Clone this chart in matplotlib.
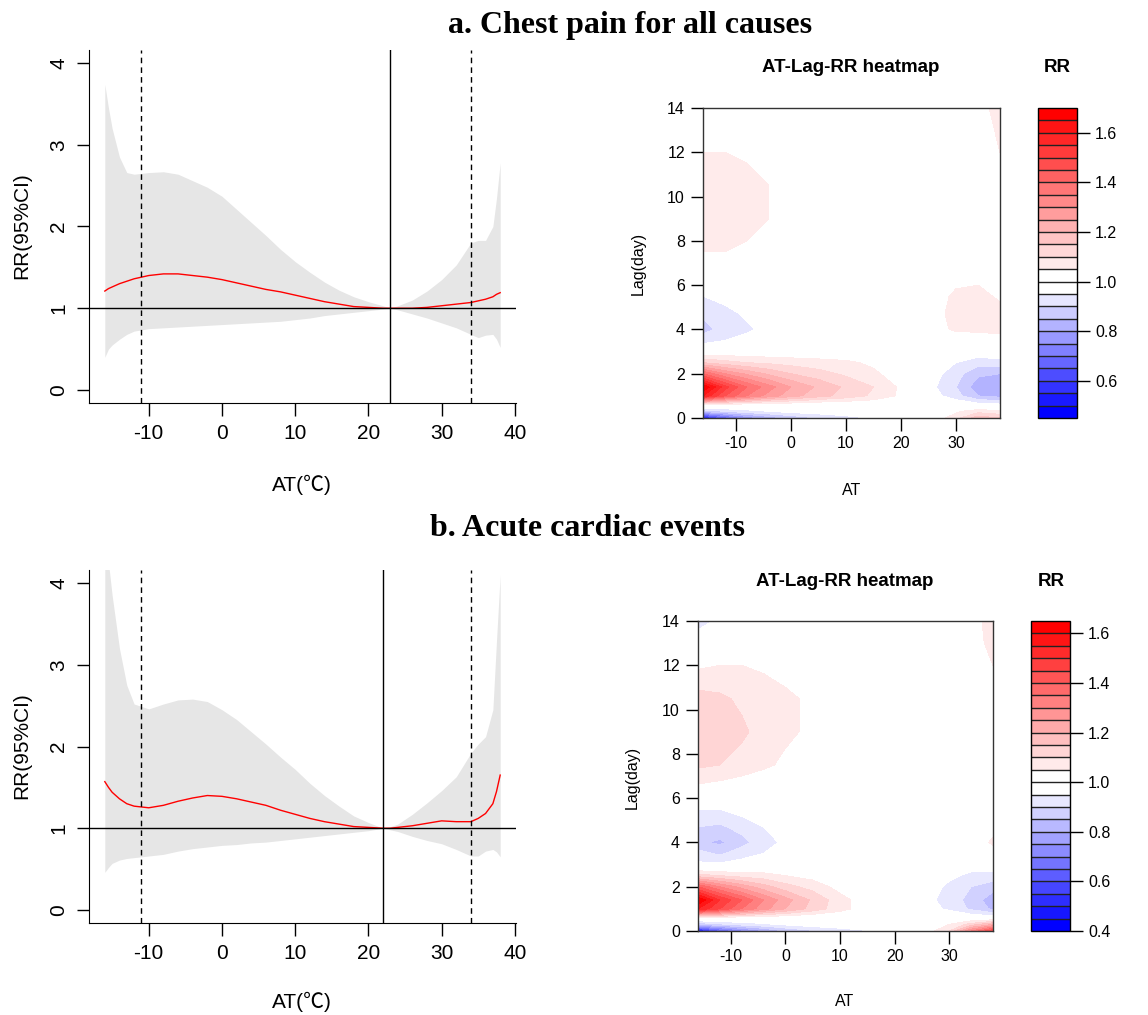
import numpy as np
import matplotlib
matplotlib.use('Agg')
from matplotlib import pyplot as plt

plt.rcParams['font.family'] = ['Liberation Sans', 'Noto Sans CJK SC', 'DejaVu Sans']
plt.rcParams['axes.unicode_minus'] = False

# ---- exposure-response curves (overall cumulative RR) ----
at_line = [-16, -15.5, -15, -14, -13, -12, -10, -8, -6, -4, -2, 0, 2, 4, 6, 8, 10,
           12, 14, 16, 18, 20, 22, 23, 24, 26, 28, 30, 32, 34, 35, 36, 37, 37.5, 38]

rr_a = [1.21, 1.24, 1.26, 1.30, 1.33, 1.36, 1.40, 1.42, 1.42, 1.40, 1.38, 1.35, 1.31, 1.27,
        1.23, 1.20, 1.16, 1.12, 1.08, 1.05, 1.02, 1.01, 1.00, 1.00, 1.00, 1.00, 1.01, 1.03,
        1.05, 1.07, 1.09, 1.11, 1.14, 1.17, 1.19]
low_a = [0.40, 0.50, 0.55, 0.62, 0.68, 0.72, 0.75, 0.76, 0.77, 0.78, 0.79, 0.80, 0.81, 0.82,
         0.83, 0.84, 0.86, 0.88, 0.91, 0.93, 0.95, 0.97, 0.99, 1.00, 0.98, 0.93, 0.88, 0.82,
         0.76, 0.68, 0.64, 0.67, 0.68, 0.62, 0.52]
high_a = [3.74, 3.45, 3.20, 2.85, 2.66, 2.64, 2.66, 2.67, 2.64, 2.56, 2.48, 2.37, 2.21, 2.05,
          1.89, 1.72, 1.57, 1.44, 1.32, 1.22, 1.14, 1.08, 1.03, 1.00, 1.03, 1.10, 1.21, 1.35,
          1.53, 1.80, 1.83, 1.83, 2.00, 2.35, 2.78]

rr_b = [1.57, 1.50, 1.44, 1.36, 1.30, 1.27, 1.25, 1.28, 1.33, 1.37, 1.40, 1.39, 1.36, 1.32,
        1.28, 1.22, 1.17, 1.12, 1.08, 1.05, 1.02, 1.01, 1.00, 1.00, 1.01, 1.03, 1.06, 1.09,
        1.08, 1.08, 1.12, 1.18, 1.30, 1.45, 1.65]
low_b = [0.46, 0.52, 0.57, 0.61, 0.63, 0.64, 0.66, 0.68, 0.72, 0.75, 0.77, 0.79, 0.80, 0.82,
         0.83, 0.85, 0.87, 0.89, 0.91, 0.93, 0.95, 0.97, 1.00, 0.98, 0.96, 0.90, 0.85, 0.81,
         0.74, 0.66, 0.66, 0.72, 0.74, 0.71, 0.65]
high_b = [4.60, 4.25, 3.85, 3.20, 2.75, 2.52, 2.46, 2.52, 2.57, 2.58, 2.55, 2.45, 2.33, 2.18,
          2.03, 1.87, 1.72, 1.55, 1.40, 1.27, 1.15, 1.07, 1.00, 1.02, 1.05, 1.17, 1.31, 1.46,
          1.63, 1.92, 2.03, 2.12, 2.45, 3.30, 4.10]

cen_a = 23
cen_b = 22
cut_low = -11
cut_high = 34

# ---- AT-lag-RR surfaces ----
at_grid = [-16, -12, -8, -4, 0, 5, 10, 15, 20, 25, 30, 34, 38]
lag_grid = [0, 0.3, 0.6, 1.0, 1.4, 2.0, 2.5, 3.0, 3.5, 4.0, 4.7, 5.5, 6.5, 7.5, 9.0, 10.5,
            12.0, 13.0, 14.0]

heat_a = [
    [0.50, 0.66, 0.76, 0.82, 0.86, 0.90, 0.93, 0.955, 0.98, 1.00, 1.08, 1.18, 1.15],
    [0.86, 0.90, 0.93, 0.95, 0.97, 0.98, 0.99, 1.00, 1.00, 1.01, 1.04, 1.08, 1.06],
    [1.04, 1.03, 1.02, 1.01, 1.01, 1.00, 1.00, 1.00, 1.00, 1.00, 0.99, 0.97, 0.96],
    [1.60, 1.45, 1.35, 1.28, 1.22, 1.17, 1.13, 1.09, 1.04, 0.98, 0.92, 0.85, 0.83],
    [1.70, 1.52, 1.40, 1.32, 1.25, 1.19, 1.14, 1.10, 1.04, 0.97, 0.90, 0.82, 0.81],
    [1.40, 1.30, 1.24, 1.19, 1.15, 1.12, 1.09, 1.06, 1.02, 0.98, 0.92, 0.86, 0.85],
    [1.15, 1.12, 1.10, 1.09, 1.08, 1.07, 1.06, 1.04, 1.01, 0.99, 0.95, 0.92, 0.93],
    [1.00, 1.01, 1.01, 1.01, 1.01, 1.01, 1.01, 1.01, 1.00, 1.00, 0.99, 0.98, 0.99],
    [0.93, 0.95, 0.97, 0.99, 1.00, 1.00, 1.00, 1.00, 1.00, 1.00, 1.01, 1.02, 1.02],
    [0.88, 0.92, 0.94, 0.97, 0.99, 1.00, 1.00, 1.00, 1.00, 1.02, 1.06, 1.06, 1.07],
    [0.91, 0.93, 0.96, 0.98, 0.99, 1.00, 1.00, 1.00, 1.00, 1.02, 1.07, 1.08, 1.07],
    [0.95, 0.97, 0.99, 1.00, 1.00, 1.00, 1.00, 1.00, 1.00, 1.02, 1.06, 1.07, 1.04],
    [1.00, 1.01, 1.01, 1.00, 1.00, 1.00, 1.00, 1.00, 1.00, 1.01, 1.03, 1.03, 1.02],
    [1.05, 1.05, 1.04, 1.02, 1.01, 1.00, 1.00, 1.00, 1.00, 1.00, 1.01, 1.01, 1.01],
    [1.08, 1.08, 1.07, 1.05, 1.02, 1.01, 1.00, 1.00, 1.00, 1.00, 1.00, 1.01, 1.02],
    [1.08, 1.08, 1.07, 1.05, 1.03, 1.01, 1.00, 1.00, 1.00, 1.00, 1.00, 1.01, 1.03],
    [1.05, 1.05, 1.04, 1.03, 1.02, 1.01, 1.00, 1.00, 1.00, 1.00, 1.01, 1.02, 1.05],
    [1.02, 1.02, 1.02, 1.01, 1.01, 1.00, 1.00, 1.00, 1.00, 1.00, 1.01, 1.02, 1.06],
    [0.99, 1.00, 1.00, 1.00, 1.00, 1.00, 1.00, 1.00, 1.00, 1.00, 1.01, 1.03, 1.07],
]

heat_b = [
    [0.45, 0.62, 0.72, 0.79, 0.85, 0.89, 0.92, 0.945, 0.98, 1.01, 1.10, 1.30, 1.45],
    [0.85, 0.89, 0.92, 0.94, 0.96, 0.98, 0.99, 1.00, 1.00, 1.01, 1.05, 1.12, 1.20],
    [1.04, 1.03, 1.02, 1.01, 1.01, 1.00, 1.00, 1.00, 1.00, 1.00, 1.00, 0.99, 0.98],
    [1.55, 1.45, 1.35, 1.27, 1.20, 1.13, 1.07, 1.02, 1.00, 0.98, 0.94, 0.89, 0.84],
    [1.65, 1.50, 1.40, 1.30, 1.22, 1.14, 1.07, 1.02, 1.00, 0.97, 0.93, 0.88, 0.82],
    [1.40, 1.30, 1.23, 1.17, 1.12, 1.08, 1.03, 1.01, 1.00, 0.98, 0.94, 0.90, 0.87],
    [1.12, 1.10, 1.08, 1.07, 1.05, 1.03, 1.01, 1.00, 1.00, 0.99, 0.96, 0.94, 0.93],
    [0.96, 0.96, 0.97, 0.99, 1.00, 1.00, 1.00, 1.00, 1.00, 1.00, 0.99, 0.97, 0.98],
    [0.92, 0.89, 0.93, 0.95, 0.98, 1.00, 1.00, 1.00, 1.00, 1.00, 1.00, 1.00, 1.02],
    [0.86, 0.84, 0.88, 0.93, 0.96, 0.99, 1.00, 1.00, 1.00, 1.00, 1.00, 1.01, 1.06],
    [0.90, 0.89, 0.92, 0.95, 0.97, 0.99, 1.00, 1.00, 1.00, 1.00, 1.00, 1.01, 1.03],
    [0.95, 0.95, 0.97, 0.98, 0.99, 1.00, 1.00, 1.00, 1.00, 1.00, 1.00, 1.00, 1.01],
    [1.04, 1.03, 1.02, 1.01, 1.00, 1.00, 1.00, 1.00, 1.00, 1.00, 1.00, 1.00, 1.00],
    [1.11, 1.10, 1.08, 1.06, 1.04, 1.02, 1.00, 1.00, 1.00, 1.00, 1.00, 1.00, 1.00],
    [1.14, 1.13, 1.11, 1.08, 1.06, 1.04, 1.01, 1.00, 1.00, 1.00, 1.00, 1.00, 1.00],
    [1.12, 1.11, 1.09, 1.08, 1.06, 1.04, 1.01, 1.00, 1.00, 1.00, 1.00, 1.00, 1.01],
    [1.04, 1.05, 1.05, 1.04, 1.03, 1.02, 1.01, 1.00, 1.00, 1.00, 1.00, 1.01, 1.05],
    [0.98, 0.99, 1.00, 1.00, 1.00, 1.00, 1.00, 1.00, 1.00, 1.00, 1.00, 1.02, 1.07],
    [0.93, 0.96, 0.99, 1.00, 1.00, 1.00, 1.00, 1.00, 1.00, 1.00, 1.00, 1.02, 1.08],
]

key_range_a = (0.45, 1.70)
key_range_b = (0.40, 1.65)
key_ticks_a = [0.6, 0.8, 1.0, 1.2, 1.4, 1.6]
key_ticks_b = [0.4, 0.6, 0.8, 1.0, 1.2, 1.4, 1.6]

W, H = 1148, 1015


def box(x0, y0, x1, y1):
    # pixel box (top-left origin) -> figure fraction rect
    return [x0 / W, 1 - y1 / H, (x1 - x0) / W, (y1 - y0) / H]


def fx(x):
    return x / W


def fy(y):
    return 1 - y / H


def rr_colors(levels):
    n_lo = int(np.sum(levels < 0.999))
    n_hi = int(np.sum(levels > 1.001))
    blues = [(t, t, 1.0) for t in np.linspace(0, 1, n_lo)]
    reds = [(1.0, 1 - t, 1 - t) for t in np.linspace(0, 1, n_hi)]
    return blues + reds


def curve_panel(ax, rr, lo, hi, cen):
    ax.fill_between(at_line, lo, hi, color='#e6e6e6', lw=0)
    ax.plot(at_line, rr, color='red', lw=1)
    ax.axhline(1, color='black', lw=1)
    ax.axvline(cen, color='black', lw=1)
    for v in (cut_low, cut_high):
        ax.axvline(v, color='black', lw=1, ls=(0, (4, 3)))
    ax.set_xlim(-18.16, 40.16)
    ax.set_ylim(-0.16, 4.16)
    ax.spines['top'].set_visible(False)
    ax.spines['right'].set_visible(False)
    ax.set_xticks([-10, 0, 10, 20, 30, 40])
    ax.set_yticks([0, 1, 2, 3, 4])
    ax.tick_params(length=9, width=1, labelsize=15, pad=6)
    for lab in ax.get_yticklabels():
        lab.set_rotation(90)
        lab.set_va('center')


def heat_panel(ax, cax, grid, key_range, key_ticks):
    levels = np.round(np.arange(key_range[0], key_range[1] + 0.001, 0.05), 2)
    cols = rr_colors(levels)
    cs = ax.contourf(at_grid, lag_grid, np.array(grid), levels=levels, colors=cols)
    ax.set_xlim(-16, 38)
    ax.set_ylim(0, 14)
    ax.set_xticks([-10, 0, 10, 20, 30])
    ax.set_yticks(range(0, 15, 2))
    ax.tick_params(length=9, width=1, labelsize=11.5, pad=4)
    for s in ax.spines.values():
        s.set_linewidth(1)
        s.set_color('#333333')
    cb = fig.colorbar(cs, cax=cax, drawedges=True)
    cb.dividers.set_color('#222222')
    cb.dividers.set_linewidth(1)
    cb.outline.set_linewidth(1)
    cb.set_ticks(key_ticks)
    cb.set_ticklabels(['%.1f' % t for t in key_ticks])
    cax.tick_params(length=9, width=1, labelsize=11.5, pad=4)


fig = plt.figure(figsize=(W / 100, H / 100), dpi=100)

ax1 = fig.add_axes(box(89, 50, 516, 403))
curve_panel(ax1, rr_a, low_a, high_a, cen_a)
ax2 = fig.add_axes(box(89, 570, 516, 923))
curve_panel(ax2, rr_b, low_b, high_b, cen_b)

hm1 = fig.add_axes(box(703, 108, 1000, 418))
cb1 = fig.add_axes(box(1038, 108, 1077, 418))
heat_panel(hm1, cb1, heat_a, key_range_a, key_ticks_a)
hm2 = fig.add_axes(box(698, 621, 993, 931))
cb2 = fig.add_axes(box(1031, 621, 1070, 931))
heat_panel(hm2, cb2, heat_b, key_range_b, key_ticks_b)

# titles and labels
serif = dict(family='Liberation Serif', weight='bold', size=23, ha='center', va='center')
fig.text(fx(630), fy(26), 'a. Chest pain for all causes', **serif)
fig.text(fx(588), fy(528), 'b. Acute cardiac events', **serif)

for yc, yl in ((485, 226), (1002, 746)):
    fig.text(fx(302), fy(yc), 'AT(℃)', size=15, ha='center', va='center')
    fig.text(fx(22), fy(yl), 'RR(95%CI)', size=15, ha='center', va='center', rotation=90)

for (xt, yt), (xk, yk), (xa, ya), (xl, yl) in (
        ((851, 68), (1057, 68), (852, 490), (638, 263)),
        ((845, 582), (1051, 582), (845, 1002), (632, 777))):
    fig.text(fx(xt), fy(yt), 'AT-Lag-RR heatmap', size=13.5, weight='bold', ha='center', va='center')
    fig.text(fx(xk), fy(yk), 'RR', size=13.5, weight='bold', ha='center', va='center')
    fig.text(fx(xa), fy(ya), 'AT', size=11.5, ha='center', va='center')
    fig.text(fx(xl), fy(yl), 'Lag(day)', size=11.5, ha='center', va='center', rotation=90)

fig.savefig('out.png', dpi=100)
